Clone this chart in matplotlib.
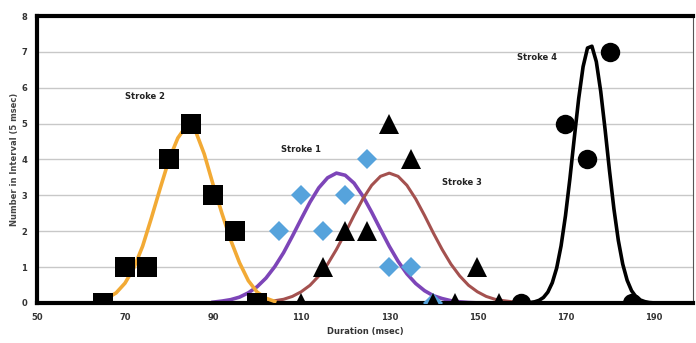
import matplotlib
matplotlib.use('Agg')
from matplotlib import pyplot as plt

# measured counts per 5 msec interval
s2_x = [65, 70, 75, 80, 85, 90, 95, 100]
s2_y = [0, 1, 1, 4, 5, 3, 2, 0]
s1_x = [105, 110, 115, 120, 125, 130, 135, 140]
s1_y = [2, 3, 2, 3, 4, 1, 1, 0]
s3_x = [110, 115, 120, 125, 130, 135, 140, 145, 150, 155]
s3_y = [0, 1, 2, 2, 5, 4, 0, 0, 1, 0]
s4_x = [160, 170, 175, 180, 185]
s4_y = [0, 5, 4, 7, 0]

# fitted curves
fit2_x = [64, 66, 68, 70, 72, 74, 76, 78, 80, 82, 84, 86, 88, 90, 92, 94, 96, 98, 100, 102, 104]
fit2_y = [0.05, 0.13, 0.28, 0.55, 0.97, 1.58, 2.37, 3.2, 4.0, 4.6, 4.95, 4.8, 4.15, 3.3, 2.5, 1.75, 1.12, 0.62, 0.3, 0.13, 0.04]
fit1_x = [90, 92, 94, 96, 98, 100, 102, 104, 106, 108, 110, 112, 114, 116, 118, 120, 122, 124,
          126, 128, 130, 132, 134, 136, 138, 140, 142, 144, 146, 148, 150]
fit1_y = [0.02, 0.05, 0.09, 0.16, 0.28, 0.45, 0.69, 1.01, 1.4, 1.86, 2.34, 2.81, 3.21, 3.49, 3.62, 3.56, 3.34,
          2.98, 2.53, 2.05, 1.58, 1.16, 0.81, 0.54, 0.34, 0.2, 0.12, 0.06, 0.03, 0.01, 0]
fit3_x = [100, 102, 104, 106, 108, 110, 112, 114, 116, 118, 120, 122, 124, 126, 128, 130, 132, 134, 136,
          138, 140, 142, 144, 146, 148, 150, 152, 154, 156, 158, 160, 190]
fit3_y = [0.01, 0.03, 0.06, 0.1, 0.18, 0.31, 0.49, 0.75, 1.08, 1.49, 1.95, 2.44, 2.9, 3.28, 3.53, 3.62, 3.53,
          3.28, 2.9, 2.44, 1.95, 1.49, 1.08, 0.75, 0.49, 0.31, 0.18, 0.1, 0.06, 0.03, 0.01, 0]
fit4_x = [155, 160, 162, 163, 164, 165, 166, 167, 168, 169, 170, 171, 172, 173, 174, 175, 176, 177, 178,
          179, 180, 181, 182, 183, 184, 185, 186, 187, 188, 189, 190, 199]
fit4_y = [0, 0, 0.01, 0.03, 0.07, 0.15, 0.3, 0.56, 0.97, 1.59, 2.43, 3.46, 4.6, 5.7, 6.59, 7.11, 7.16, 6.73,
          5.9, 4.83, 3.68, 2.62, 1.74, 1.08, 0.63, 0.34, 0.17, 0.08, 0.035, 0.01, 0, 0]

labels = ['Stroke 2', 'Stroke 1', 'Stroke 3', 'Stroke 4']
label_x = [74.5, 110, 146.5, 163.5]
label_y = [5.75, 4.27, 3.35, 6.85]

fig = plt.figure(figsize=(6.96, 3.43), dpi=100)
ax = fig.add_axes([0.053, 0.117, 0.943, 0.836])

ax.plot(fit1_x, fit1_y, color='#7d45b8', lw=2.6, zorder=2)
ax.plot(fit3_x, fit3_y, color='#a4514f', lw=2.2, zorder=2)
ax.plot(fit2_x, fit2_y, color='#f2aa35', lw=2.6, zorder=3)
ax.plot(fit4_x, fit4_y, color='black', lw=2.6, zorder=3)

ax.plot(s1_x, s1_y, 'D', color='#56a3dc', ms=10, mew=0, zorder=4)
ax.plot(s3_x, s3_y, '^', color='black', ms=15, mew=0, zorder=5)
ax.plot(s2_x, s2_y, 's', color='black', ms=14, mew=0, zorder=5)
ax.plot(s4_x, s4_y, 'o', color='black', ms=14, mew=0, zorder=5)

for t, x, y in zip(labels, label_x, label_y):
    ax.text(x, y, t, fontsize=6, fontweight='bold', ha='center', va='center', color='#222222')

ax.set_xlim(50, 199)
ax.set_ylim(0, 8)
ax.set_xticks([50, 70, 90, 110, 130, 150, 170, 190])
ax.set_yticks(range(9))
ax.tick_params(length=0, labelsize=6, pad=7, labelcolor='#333333')
for lab in ax.get_xticklabels() + ax.get_yticklabels():
    lab.set_fontweight('bold')
ax.grid(axis='y', color='#c8c8c8', lw=1)
ax.set_axisbelow(True)
for side in ['left', 'bottom', 'top']:
    ax.spines[side].set_linewidth(3)
ax.spines['right'].set_linewidth(0.8)
ax.spines['right'].set_color('#555555')

ax.set_xlabel('Duration (msec)', fontsize=6, fontweight='bold', labelpad=4, color='#333333')
ax.set_ylabel('Number in Interval (5 msec)', fontsize=6, fontweight='bold', labelpad=2, color='#444444')

fig.savefig('out.png', dpi=100)
